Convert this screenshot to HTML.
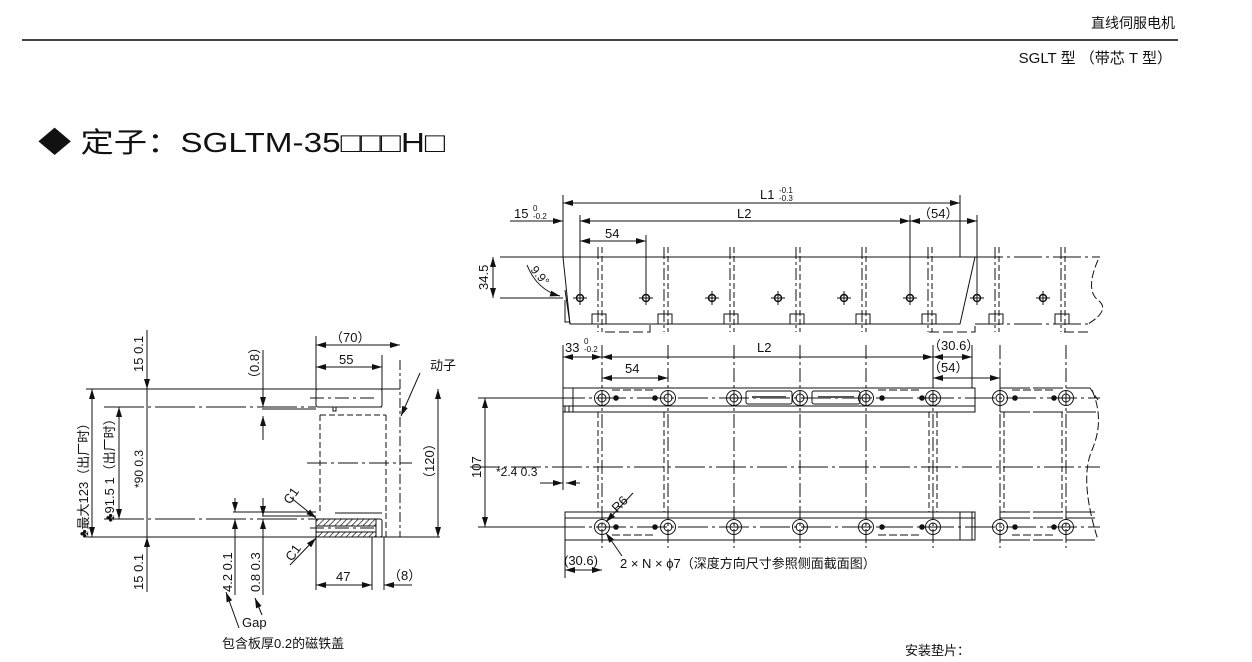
<!DOCTYPE html>
<html><head><meta charset="utf-8"><style>
html,body{margin:0;padding:0;background:#fff;width:1252px;height:662px;overflow:hidden}
svg{display:block}
text{font-family:"Liberation Sans","Noto Sans CJK SC",sans-serif;fill:#111}
</style></head><body>
<svg width="1252" height="662" viewBox="0 0 1252 662" xmlns="http://www.w3.org/2000/svg">
<defs>
<marker id="a" viewBox="0 0 10 6" refX="10" refY="3" markerWidth="10" markerHeight="6" orient="auto-start-reverse" markerUnits="userSpaceOnUse"><path d="M0,0L10,3L0,6z" fill="#111"/></marker>
<pattern id="h" width="4" height="4" patternUnits="userSpaceOnUse" patternTransform="rotate(45)"><line x1="0" y1="0" x2="0" y2="4" stroke="#111" stroke-width="1.4"/></pattern>
</defs>
<!-- header -->
<text x="1175" y="28" font-size="14" text-anchor="end">直线伺服电机</text>
<line x1="22" y1="40" x2="1178" y2="40" stroke="#444" stroke-width="2"/>
<text x="1172" y="63" font-size="15" text-anchor="end">SGLT 型 （带芯 T 型）</text>
<text x="38" y="152" font-size="28" textLength="407" lengthAdjust="spacingAndGlyphs">◆ 定子：SGLTM-35□□□H□</text>

<g stroke="#111" stroke-width="1" fill="none">
<!-- LEFT VIEW -->
<line x1="86" y1="389" x2="400" y2="389"/>
<line x1="86" y1="537" x2="440" y2="537"/>
<line x1="104" y1="407" x2="316" y2="407" stroke-dasharray="40,4,3,4"/>
<line x1="104" y1="519" x2="316" y2="519" stroke-dasharray="40,4,3,4"/>
<line x1="262" y1="409" x2="316" y2="409"/>
<line x1="262" y1="516" x2="316" y2="516"/>
<line x1="233" y1="512" x2="316" y2="512"/>
<line x1="147" y1="330" x2="147" y2="389" marker-end="url(#a)"/>
<line x1="147" y1="389" x2="147" y2="537"/>
<line x1="147" y1="592" x2="147" y2="537" marker-end="url(#a)"/>
<line x1="92" y1="389" x2="92" y2="537" marker-start="url(#a)" marker-end="url(#a)"/>
<line x1="119" y1="407" x2="119" y2="519" marker-start="url(#a)" marker-end="url(#a)"/>
<line x1="263" y1="350" x2="263" y2="407" marker-end="url(#a)"/>
<line x1="263" y1="440" x2="263" y2="416" marker-end="url(#a)"/>
<line x1="263" y1="498" x2="263" y2="516" marker-end="url(#a)"/>
<line x1="263" y1="595" x2="263" y2="519" marker-end="url(#a)"/>
<line x1="235" y1="498" x2="235" y2="512" marker-end="url(#a)"/>
<line x1="235" y1="595" x2="235" y2="519" marker-end="url(#a)"/>
<!-- leaders -->
<line x1="239" y1="628" x2="226" y2="592" marker-end="url(#a)"/>
<line x1="262" y1="615" x2="255" y2="598" marker-end="url(#a)"/>
<!-- motor -->
<rect x="316" y="389" width="66" height="18" rx="2"/>
<line x1="310" y1="398" x2="378" y2="398" stroke-dasharray="14,4,3,4"/>
<line x1="332" y1="407" x2="382" y2="407"/>
<rect x="333" y="407" width="3" height="4"/>
<path d="M320 415V513M386 415V513M320 415H386" stroke-dasharray="6,3"/>
<line x1="307" y1="463" x2="412" y2="463" stroke-dasharray="20,4,3,4"/>
<line x1="335" y1="513" x2="382" y2="513"/>
<rect x="316" y="519" width="60" height="7" fill="url(#h)"/>
<rect x="316" y="532" width="60" height="5" fill="url(#h)"/>
<rect x="316" y="519" width="66" height="18" rx="2"/>
<line x1="310" y1="528" x2="376" y2="528" stroke-dasharray="14,4,3,4"/>
<line x1="376" y1="519" x2="376" y2="537"/>
<line x1="386" y1="513" x2="386" y2="537" stroke-dasharray="6,3"/>
<line x1="400" y1="360" x2="400" y2="537" stroke-dasharray="10,3,3,3"/>
<line x1="382" y1="355" x2="382" y2="389"/>
<line x1="316" y1="336" x2="316" y2="389"/>
<line x1="316" y1="537" x2="316" y2="590"/>
<line x1="372" y1="537" x2="372" y2="590"/>
<line x1="384" y1="537" x2="384" y2="590"/>
<line x1="316" y1="345" x2="400" y2="345" marker-start="url(#a)" marker-end="url(#a)"/>
<line x1="316" y1="367" x2="382" y2="367" marker-start="url(#a)" marker-end="url(#a)"/>
<line x1="316" y1="585" x2="372" y2="585" marker-start="url(#a)" marker-end="url(#a)"/>
<line x1="412" y1="585" x2="384" y2="585" marker-end="url(#a)"/>
<line x1="438" y1="389" x2="438" y2="537" marker-start="url(#a)" marker-end="url(#a)"/>
<line x1="420" y1="373" x2="401" y2="416" marker-end="url(#a)"/>
<line x1="290" y1="497" x2="316" y2="518" marker-end="url(#a)"/>
<line x1="290" y1="565" x2="316" y2="538" marker-end="url(#a)"/>

<!-- TOP SIDE VIEW -->
<line x1="500" y1="257" x2="975" y2="257"/>
<line x1="975" y1="257" x2="1100" y2="257" stroke-dasharray="28,4,3,4"/>
<line x1="500" y1="298" x2="563" y2="298"/>
<path d="M563 257L570 324H960L975 257"/>
<path d="M565 290L570 324M565 300V322H570"/>
<line x1="975" y1="324" x2="1092" y2="324" stroke-dasharray="28,4,3,4"/>
<path d="M1098 260Q1085 290 1098 300T1088 324" stroke-dasharray="8,3"/>
<line x1="563" y1="195" x2="563" y2="257"/>
<line x1="960" y1="195" x2="960" y2="257"/>
<line x1="580" y1="215" x2="580" y2="298"/>
<line x1="646" y1="235" x2="646" y2="298"/>
<line x1="910" y1="215" x2="910" y2="298"/>
<line x1="977" y1="215" x2="977" y2="298"/>
<line x1="563" y1="203" x2="960" y2="203" marker-start="url(#a)" marker-end="url(#a)"/>
<line x1="580" y1="221" x2="910" y2="221" marker-start="url(#a)" marker-end="url(#a)"/>
<line x1="910" y1="221" x2="977" y2="221" marker-start="url(#a)" marker-end="url(#a)"/>
<line x1="580" y1="241" x2="646" y2="241" marker-start="url(#a)" marker-end="url(#a)"/>
<line x1="510" y1="221" x2="563" y2="221" marker-end="url(#a)"/>
<line x1="493" y1="257" x2="493" y2="298" marker-start="url(#a)" marker-end="url(#a)"/>
<path d="M527 265Q537 290 560 296" marker-end="url(#a)"/>
<g id="tv">
<line x1="598" y1="247" x2="598" y2="332" stroke-dasharray="12,3,3,3"/>
<line x1="602" y1="247" x2="602" y2="332" stroke-dasharray="6,3"/>
<rect x="592" y="314" width="14" height="10"/>
</g>
<use href="#tv" x="66"/><use href="#tv" x="132"/><use href="#tv" x="198"/><use href="#tv" x="264"/><use href="#tv" x="330"/><use href="#tv" x="397"/><use href="#tv" x="463"/>
<path d="M605 332H650V324M929 332H975V324M1064 332H1090" stroke-dasharray="10,4"/>
<g id="th"><circle cx="580" cy="298" r="3.5" stroke-width="1.5"/><line x1="573" y1="298" x2="587" y2="298"/><line x1="580" y1="291" x2="580" y2="305"/></g>
<use href="#th" x="66"/><use href="#th" x="132"/><use href="#th" x="198"/><use href="#th" x="264"/><use href="#th" x="330"/><use href="#th" x="397"/><use href="#th" x="463"/>

<!-- PLAN VIEW -->
<path d="M563 388H975V412H563Z"/>
<line x1="563" y1="406" x2="975" y2="406"/>
<line x1="573" y1="388" x2="573" y2="412"/>
<path d="M565 406V412M569 406V412"/>
<path d="M565 512H975V540H565Z"/>
<line x1="565" y1="518" x2="975" y2="518"/>
<rect x="960" y="512" width="12" height="28"/>
<path d="M1000 388H1090L1098 400M1000 412H1098M1000 388V412" stroke-dasharray="30,3"/>
<path d="M1000 512H1095M1000 518H1095M1000 540H1095" stroke-dasharray="30,3"/>
<path d="M1092 390Q1105 420 1092 450T1098 540" stroke-dasharray="8,3"/>
<line x1="555" y1="398" x2="1100" y2="398" stroke-dasharray="30,4,3,4"/>
<line x1="555" y1="527" x2="1100" y2="527" stroke-dasharray="30,4,3,4"/>
<line x1="470" y1="467" x2="1100" y2="467" stroke-dasharray="30,4,3,4"/>
<line x1="478" y1="398" x2="560" y2="398"/>
<line x1="478" y1="527" x2="560" y2="527"/>
<line x1="485" y1="398" x2="485" y2="527" marker-start="url(#a)" marker-end="url(#a)"/>
<line x1="563" y1="345" x2="563" y2="388"/>
<line x1="565" y1="540" x2="565" y2="578"/>
<line x1="933" y1="345" x2="933" y2="388"/>
<line x1="972" y1="345" x2="972" y2="388"/>
<line x1="1000" y1="370" x2="1000" y2="388"/>
<line x1="563" y1="357" x2="602" y2="357" marker-start="url(#a)" marker-end="url(#a)"/>
<line x1="602" y1="357" x2="933" y2="357" marker-start="url(#a)" marker-end="url(#a)"/>
<line x1="933" y1="357" x2="972" y2="357" marker-start="url(#a)" marker-end="url(#a)"/>
<line x1="933" y1="378" x2="1000" y2="378" marker-start="url(#a)" marker-end="url(#a)"/>
<line x1="602" y1="378" x2="668" y2="378" marker-start="url(#a)" marker-end="url(#a)"/>
<line x1="565" y1="570" x2="602" y2="570" marker-start="url(#a)" marker-end="url(#a)"/>
<line x1="540" y1="483" x2="563" y2="483" marker-end="url(#a)"/>
<line x1="580" y1="483" x2="566" y2="483" marker-end="url(#a)"/>
<line x1="563" y1="412" x2="563" y2="490"/>
<line x1="633" y1="493" x2="606" y2="522" marker-end="url(#a)"/>
<line x1="622" y1="556" x2="606" y2="533" marker-end="url(#a)"/>
<g id="pv">
<line x1="602" y1="345" x2="602" y2="548" stroke-dasharray="14,3,3,3"/>
<circle cx="602" cy="398" r="7.5"/><circle cx="602" cy="398" r="4"/>
<circle cx="602" cy="527" r="7.5"/><circle cx="602" cy="527" r="4"/>
</g>
<use href="#pv" x="66"/><use href="#pv" x="132"/><use href="#pv" x="198"/><use href="#pv" x="264"/><use href="#pv" x="331"/><use href="#pv" x="398"/><use href="#pv" x="464"/>
<line x1="598" y1="412" x2="598" y2="512" stroke-dasharray="6,3"/>
<line x1="664" y1="412" x2="664" y2="512" stroke-dasharray="6,3"/>
<line x1="929" y1="412" x2="929" y2="512" stroke-dasharray="6,3"/>
<line x1="937" y1="412" x2="937" y2="512" stroke-dasharray="6,3"/>
<line x1="1004" y1="412" x2="1004" y2="512" stroke-dasharray="6,3"/>
<line x1="1062" y1="412" x2="1062" y2="512" stroke-dasharray="6,3"/>
<rect x="746" y="391" width="46" height="13" rx="2"/>
<rect x="812" y="391" width="48" height="13" rx="2"/>
<path d="M612 390H656M878 390H922M1012 390H1056M612 535H656M878 535H922M1012 535H1056" stroke-dasharray="8,3"/>
</g>
<g fill="#111">
<circle cx="616" cy="398" r="2.8"/><circle cx="655" cy="398" r="2.8"/><circle cx="882" cy="398" r="2.8"/><circle cx="922" cy="398" r="2.8"/><circle cx="1015" cy="398" r="2.8"/><circle cx="1054" cy="398" r="2.8"/>
<circle cx="616" cy="527" r="2.8"/><circle cx="655" cy="527" r="2.8"/><circle cx="882" cy="527" r="2.8"/><circle cx="922" cy="527" r="2.8"/><circle cx="1015" cy="527" r="2.8"/><circle cx="1054" cy="527" r="2.8"/>
<rect x="752" y="396" width="34" height="2" fill="#555"/><rect x="818" y="396" width="36" height="2" fill="#555"/>
</g>

<!-- texts left -->
<g font-size="13">
<text transform="translate(143,372) rotate(-90)">15  0.1</text>
<text transform="translate(143,590) rotate(-90)">15  0.1</text>
<text transform="translate(88,538) rotate(-90)">♣最大123（出厂时）</text>
<text transform="translate(114,522) rotate(-90)">♣91.5  1（出厂时）</text>
<text transform="translate(143,488) rotate(-90)" font-size="12">*90  0.3</text>
<text transform="translate(259,385) rotate(-90)">（0.8）</text>
<text transform="translate(232,592) rotate(-90)">4.2  0.1</text>
<text transform="translate(260,592) rotate(-90)">0.8  0.3</text>
<text x="330" y="342">（70）</text>
<text x="339" y="364">55</text>
<text x="336" y="581">47</text>
<text x="388" y="580">（8）</text>
<text x="430" y="370">动子</text>
<text transform="translate(434,485) rotate(-90)">（120）</text>
<text transform="translate(290,505) rotate(-55)">C1</text>
<text transform="translate(292,562) rotate(-55)">C1</text>
<text x="242" y="627">Gap</text>
<text x="222" y="648">包含板厚0.2的磁铁盖</text>
<!-- right texts -->
<text x="760" y="199">L1</text><text x="779" y="193" font-size="8">-0.1</text><text x="779" y="201" font-size="8">-0.3</text>
<text x="514" y="218">15</text><text x="533" y="211" font-size="8"> 0</text><text x="533" y="219" font-size="8">-0.2</text>
<text x="737" y="218">L2</text>
<text x="918" y="218">（54）</text>
<text x="605" y="238">54</text>
<text transform="translate(488,290) rotate(-90)">34.5</text>
<text transform="translate(530,270) rotate(50)" font-size="12">9.9°</text>
<text x="565" y="352">33</text><text x="584" y="344" font-size="8"> 0</text><text x="584" y="352" font-size="8">-0.2</text>
<text x="757" y="352">L2</text>
<text x="928" y="350">（30.6）</text>
<text x="928" y="372">（54）</text>
<text x="625" y="373">54</text>
<text transform="translate(481,478) rotate(-90)">107</text>
<text x="496" y="476" font-size="12">*2.4  0.3</text>
<text transform="translate(617,513) rotate(-45)">R6</text>
<text x="564" y="565">(30.6)</text>
<text x="620" y="568">2 × N × ϕ7（深度方向尺寸参照侧面截面图）</text>
<text x="905" y="655">安装垫片：</text>
</g>
</svg>
</body></html>
